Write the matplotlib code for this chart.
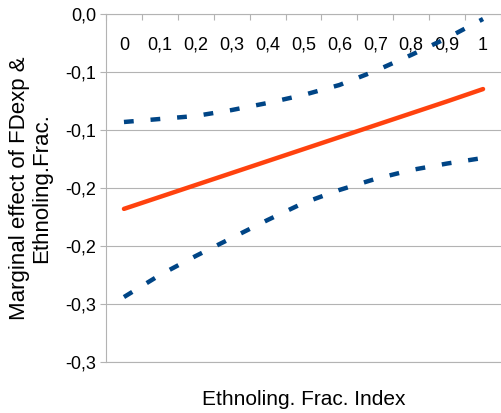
import numpy as np
import matplotlib
matplotlib.use('Agg')
import matplotlib.pyplot as plt

plt.rcParams['font.family'] = ['Liberation Sans', 'DejaVu Sans']

# ethnolinguistic fractionalization index (category axis)
frac_labels = ['0', '0,1', '0,2', '0,3', '0,4', '0,5', '0,6', '0,7', '0,8', '0,9', '1']

# marginal effect and its confidence bounds
effect = [-0.168, -0.1577, -0.1474, -0.1371, -0.1268, -0.1165,
          -0.1062, -0.0959, -0.0856, -0.0753, -0.0647]
upper = [-0.0931, -0.0905, -0.0879, -0.0828, -0.0767, -0.0698,
         -0.0612, -0.0491, -0.0353, -0.0207, -0.0043]
lower = [-0.2440, -0.2250, -0.2086, -0.1931, -0.1776, -0.1629,
         -0.1517, -0.1422, -0.1345, -0.1289, -0.1241]

ytick_vals = [0.0, -0.05, -0.1, -0.15, -0.2, -0.25, -0.3]
ytick_labels = ['0,0', '-0,1', '-0,1', '-0,2', '-0,2', '-0,3', '-0,3']

grey = '#b3b3b3'
orange = '#ff420e'
blue = '#004586'

fig = plt.figure(figsize=(5.01, 4.13), dpi=100)
ax = fig.add_axes([106 / 501, 1 - 362 / 413, 395 / 501, 348 / 413])

x = np.arange(len(frac_labels))
ax.plot(x, upper, color=blue, lw=3.2, ls=(0, (2.2, 3.8)), solid_capstyle='butt')
ax.plot(x, lower, color=blue, lw=3.2, ls=(0, (2.2, 3.8)), solid_capstyle='butt')
ax.plot(x, effect, color=orange, lw=3.2, solid_capstyle='round')

ax.set_xlim(-0.5, len(frac_labels) - 0.5)
ax.set_ylim(-0.3, 0.0)

ax.set_yticks(ytick_vals)
ax.set_yticklabels(ytick_labels)
ax.grid(axis='y', color=grey, lw=0.8)
ax.set_axisbelow(True)
ax.tick_params(axis='y', length=4, color=grey, width=0.8, labelsize=13, pad=3)

# category axis sits at y=0 (top), labels inside the plot
ax.set_xticks(x)
ax.set_xticklabels(frac_labels)
ax.tick_params(axis='x', which='major', top=True, bottom=False, labeltop=True,
               labelbottom=False, length=0, pad=-28.5, labelsize=13)
ax.set_xticks(np.arange(-0.5, len(frac_labels), 1.0), minor=True)
ax.tick_params(axis='x', which='minor', top=True, bottom=False, direction='in',
               length=4, color=grey, width=0.8)

for side in ['right']:
    ax.spines[side].set_visible(False)
for side in ['top', 'left', 'bottom']:
    ax.spines[side].set_color(grey)
    ax.spines[side].set_linewidth(0.8)

ax.xaxis.set_label_position('bottom')
ax.set_xlabel('Ethnoling. Frac. Index', fontsize=15)
ax.xaxis.set_label_coords(0.5, -0.08)
ax.set_ylabel('Marginal effect of FDexp &\nEthnoling.Frac.', fontsize=16,
              linespacing=1.05)
ax.yaxis.set_label_coords(-0.137, 0.5)

fig.savefig('out.png', dpi=100)
